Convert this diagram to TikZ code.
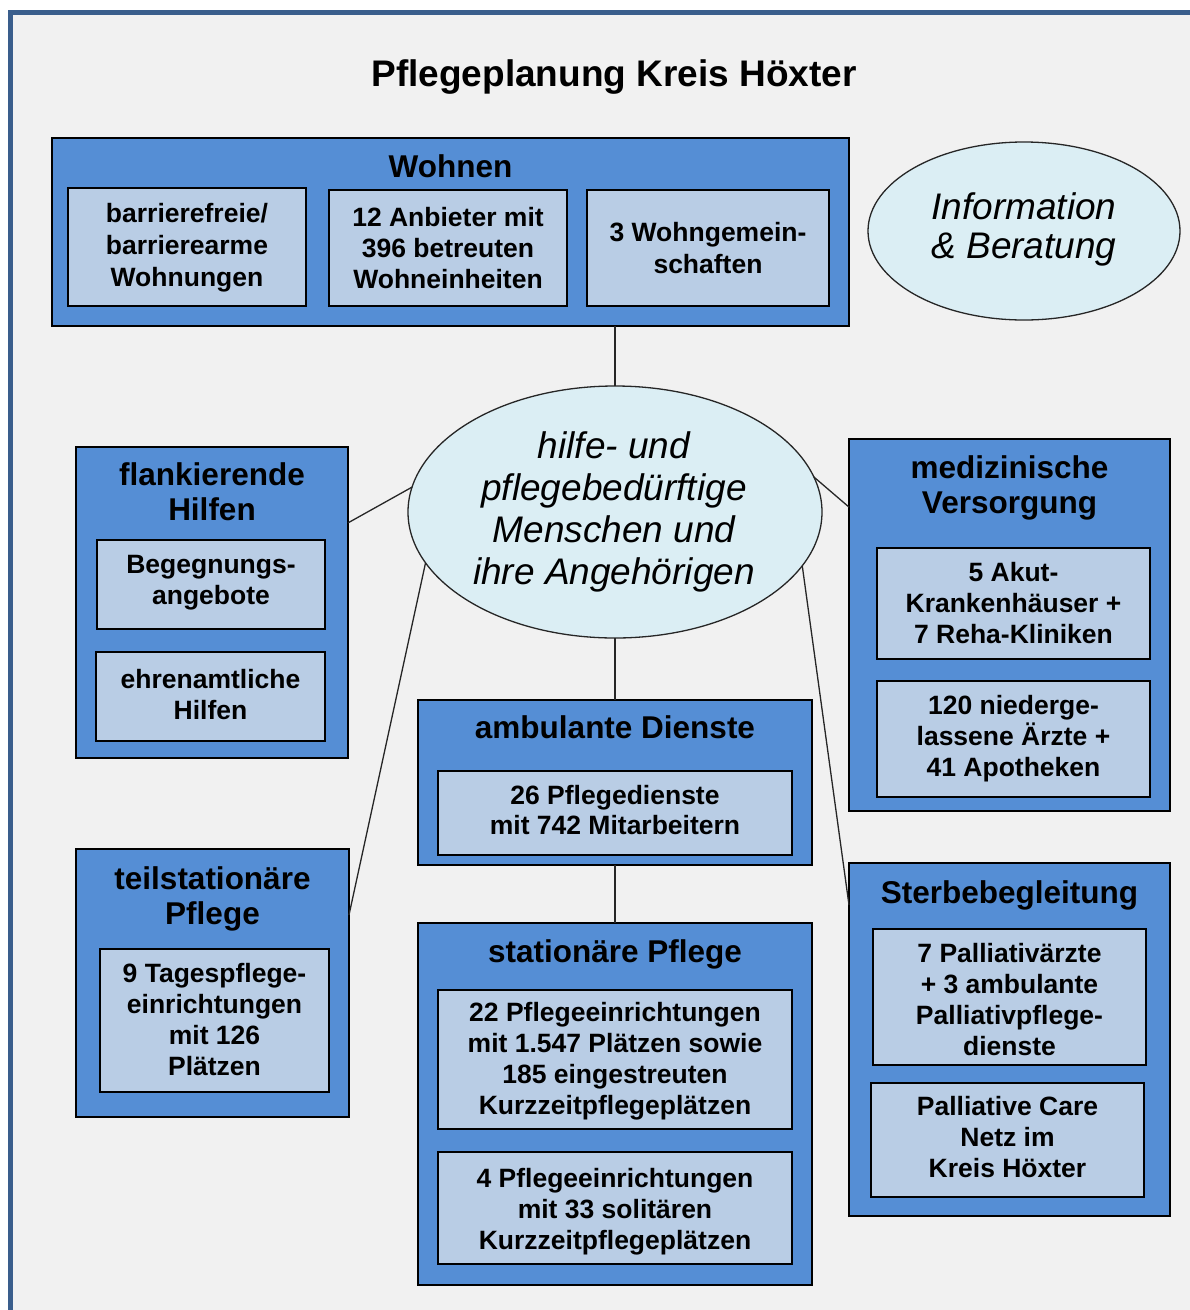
\documentclass[tikz,border=0pt]{standalone}
\usepackage{fontspec}
\setmainfont{Liberation Sans}
\usetikzlibrary{shapes.geometric,calc}
\definecolor{outerblue}{RGB}{85,142,213}
\definecolor{innerblue}{RGB}{185,205,229}
\definecolor{ellfill}{RGB}{219,238,244}
\definecolor{bgc}{RGB}{241,241,241}
\definecolor{framec}{RGB}{58,94,140}
\newcommand\mybox[6]{\node[#2, minimum width={(#5-#3)*1pt}, minimum height={(#6-#4)*1pt}] (#1) at ({(#3+#5)/2},{(#4+#6)/2}) {};}
\begin{document}
\begin{tikzpicture}[x=1pt,y=-1pt,
  outerbox/.style={draw=black, line width=1.3pt, fill=outerblue, rectangle, inner sep=0pt, outer sep=0pt},
  innerbox/.style={draw=black, line width=1.3pt, fill=innerblue, rectangle, inner sep=0pt, outer sep=0pt},
  ell/.style={ellipse, draw=black!85, line width=1.3pt, fill=ellfill, inner sep=0pt, outer sep=0pt},
  hd/.style={font=\bfseries\fontsize{31.5}{35}\selectfont, align=center, inner sep=0pt},
  tx/.style={font=\bfseries\fontsize{26.5}{31}\selectfont, align=center, inner sep=0pt},
  itx/.style={font=\itshape\fontsize{37}{42}\selectfont, align=center, inner sep=0pt},
  conn/.style={draw=black!85, line width=1.3pt}]
\useasboundingbox (0,0) rectangle (1190,1310);
\fill[white] (0,0) rectangle (1190,1310);
\fill[bgc] (10,12) rectangle (1190,1310);
\draw[framec, line width=5pt] (10,1320) -- (10,12) -- (1200,12);

% title
\node[font=\bfseries\fontsize{37}{40}\selectfont, anchor=base, inner sep=0pt] (title) at (614,86) {Pflegeplanung Kreis Höxter};

% outer boxes
\mybox{wohnen}{outerbox}{52}{138}{849}{326}
\mybox{flank}{outerbox}{76}{447}{348}{758}
\mybox{medi}{outerbox}{849}{439}{1170}{811}
\mybox{amb}{outerbox}{418}{700}{812}{865}
\mybox{teil}{outerbox}{76}{849}{349}{1117}
\mybox{stat}{outerbox}{418}{923}{812}{1285}
\mybox{sterbe}{outerbox}{849}{863}{1170}{1216}

% inner boxes
\mybox{w1}{innerbox}{68}{188}{306}{306}
\mybox{w2}{innerbox}{329}{190}{567}{306}
\mybox{w3}{innerbox}{587}{190}{829}{306}
\mybox{f1}{innerbox}{97}{540}{325}{629}
\mybox{f2}{innerbox}{96}{652}{325}{741}
\mybox{m1}{innerbox}{877}{548}{1150}{659}
\mybox{m2}{innerbox}{877}{681}{1150}{797}
\mybox{a1}{innerbox}{438}{771}{792}{855}
\mybox{t1}{innerbox}{100}{949}{329}{1092}
\mybox{s1}{innerbox}{438}{990}{792}{1129}
\mybox{s2}{innerbox}{438}{1152}{792}{1264}
\mybox{p1}{innerbox}{873}{929}{1146}{1065}
\mybox{p2}{innerbox}{871}{1083}{1144}{1197}

% ellipses
\node[ell, minimum width=414pt, minimum height=252pt] (ctr) at (615,512) {};
\node[ell, minimum width=312pt, minimum height=178pt] (info) at (1024,231) {};

% connectors
\draw[conn] (ctr.north) -- (ctr.north |- wohnen.south);
\draw[conn] (ctr.south) -- (amb.north);
\draw[conn] (amb.south) -- (stat.north);
\draw[conn] (ctr.173) -- ($(flank.north east)!0.244!(flank.south east)$);
\draw[conn] (ctr.10) -- ($(medi.north west)!0.183!(medi.south west)$);
\draw[conn] (ctr.195) -- ($(teil.north east)!0.246!(teil.south east)$);
\draw[conn] (ctr.344) -- ($(sterbe.north west)!0.119!(sterbe.south west)$);

% headings
\node[hd, anchor=base] (wohnenT) at (450.5,177) {Wohnen};
\node[hd] (flankT) at (212,491.5) {flankierende\\Hilfen};
\node[hd] (mediT) at (1009.5,488) {medizinische\\Versorgung};
\node[hd, anchor=base] (ambT) at (615,738) {ambulante Dienste};
\node[hd] (teilT) at (212.5,898.5) {teilstationäre\\Pflege};
\node[hd, anchor=base] (statT) at (615,962) {stationäre Pflege};
\node[hd, anchor=base] (sterbeT) at (1009.5,903) {Sterbebegleitung};

% inner texts
\node[tx, font=\bfseries\fontsize{26.5}{32}\selectfont] (w1T) at (187,247.5) {barrierefreie/\\barrierearme\\Wohnungen};
\node[tx] (w2T) at (448,248) {12 Anbieter mit\\396 betreuten\\Wohneinheiten};
\node[tx, font=\bfseries\fontsize{26.5}{32}\selectfont] (w3T) at (708,248) {3 Wohngemein-\\schaften};
\node[tx] (f1T) at (211,583) {Begegnungs-\\angebote};
\node[tx] (f2T) at (210.5,694.5) {ehrenamtliche\\Hilfen};
\node[tx] (m1T) at (1013.5,603.5) {5 Akut-\\Krankenhäuser +\\7 Reha-Kliniken};
\node[tx] (m2T) at (1013.5,738.5) {120 niederge-\\lassene Ärzte +\\41 Apotheken};
\node[tx, font=\bfseries\fontsize{26.5}{30}\selectfont] (a1T) at (615,810.5) {26 Pflegedienste\\mit 742 Mitarbeitern};
\node[tx] (t1T) at (214.5,1020) {9 Tagespflege-\\einrichtungen\\mit 126\\Plätzen};
\node[tx] (s1T) at (615,1061.5) {22 Pflegeeinrichtungen\\mit 1.547 Plätzen sowie\\185 eingestreuten\\Kurzzeitpflegeplätzen};
\node[tx] (s2T) at (615,1212) {4 Pflegeeinrichtungen\\mit 33 solitären\\Kurzzeitpflegeplätzen};
\node[tx] (p1T) at (1009.5,999.5) {7 Palliativärzte\\+ 3 ambulante\\Palliativpflege-\\dienste};
\node[tx] (p2T) at (1007.5,1137.5) {Palliative Care\\Netz im\\Kreis Höxter};

% ellipse texts
\node[itx] (ctrT) at (614,512) {hilfe- und\\pflegebedürftige\\Menschen und\\ihre Angehörigen};
\node[itx, font=\itshape\fontsize{37}{39}\selectfont] (infoT) at (1024,229) {Information\\\& Beratung};
\end{tikzpicture}
\end{document}
